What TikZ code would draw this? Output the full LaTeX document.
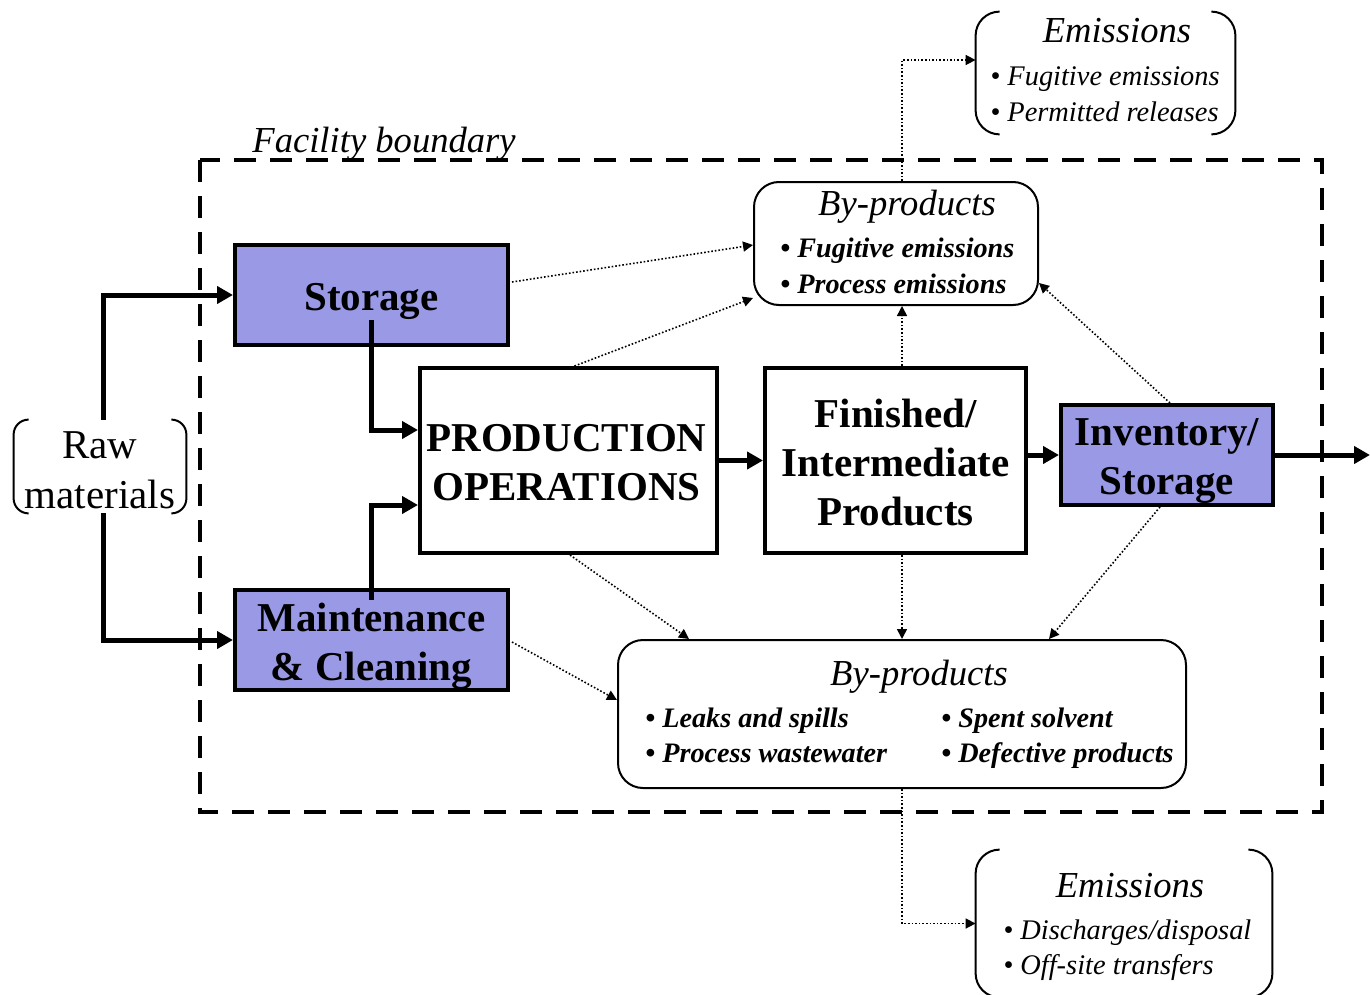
\documentclass[tikz,border=0pt]{standalone}
\usepackage{fontspec}
\setmainfont{Liberation Serif}
\usetikzlibrary{arrows.meta,calc}
\definecolor{lav}{RGB}{153,153,230}
\newcommand\bigf{\fontsize{20.5}{24.5}\selectfont\bfseries}
\newcommand\rawf{\fontsize{20.5}{25}\selectfont}
\newcommand\titf{\fontsize{18.3}{22}\selectfont\itshape}
\newcommand\bulbf{\fontsize{14.1}{17.5}\selectfont\bfseries\itshape}
\newcommand\bulit{\fontsize{14.2}{17.5}\selectfont\itshape}
\tikzset{
  bigbox/.style={draw, line width=2pt, inner sep=0pt},
  lavbox/.style={bigbox, fill=lav},
  bigtxt/.style={font=\bigf, align=center, inner sep=0pt},
  bpbox/.style={draw, line width=1pt, rounded corners=12.5pt, inner sep=0pt},
  brkbox/.style={draw=none, inner sep=0pt},
  brk/.style={line width=1pt},
  thickarrow/.style={line width=2.5pt, -{Triangle[length=8pt,width=8.5pt]}},
  dotarrow/.style={line width=0.8pt, dash pattern=on 0.8pt off 1pt, -{Triangle[length=5pt,width=5pt]}},
  ttl/.style={anchor=base, font=\titf, inner sep=0pt},
  bb/.style={anchor=base west, font=\bulbf, inner sep=0pt},
  bi/.style={anchor=base west, font=\bulit, inner sep=0pt},
}
\begin{document}
\begin{tikzpicture}[x=0.5pt,y=-0.5pt]
\useasboundingbox (0,0) rectangle (1370,995);
% facility boundary
\draw[line width=2pt, dash pattern=on 11pt off 7pt] (200,160) rectangle (1322,812);
\node[anchor=base west, font=\titf, inner sep=0pt] (fbl) at (252,153) {Facility boundary};

% main boxes
\node[lavbox, minimum width=136.5pt, minimum height=50pt] (storage) at (371.5,295) {};
\node[bigtxt] (storaget) at ($(storage.center)+(0,6)$) {Storage};
\node[lavbox, minimum width=136.5pt, minimum height=50pt] (maint) at (371.5,640) {};
\node[bigtxt] (maintt) at ($(maint.center)+(0,6)$) {Maintenance\\\& Cleaning};
\node[bigbox, minimum width=148.5pt, minimum height=92.5pt] (prod) at (568.5,460.5) {};
\node[bigtxt] (prodt) at ($(prod.center)+(-2,2.5)$) {PRODUCTION\\OPERATIONS};
\node[bigbox, minimum width=130.5pt, minimum height=92.5pt] (fin) at (895.5,460.5) {};
\node[bigtxt] (fint) at ($(fin.center)+(0,2)$) {Finished/\\Intermediate\\Products};
\node[lavbox, minimum width=106pt, minimum height=50pt] (inv) at (1167,455) {};
\node[bigtxt] (invt) at ($(inv.center)+(0,6)$) {Inventory/\\Storage};

% by-products boxes
\node[bpbox, minimum width=142pt, minimum height=61.5pt] (bp1) at (896,243.5) {};
\node[ttl] (bp1t) at (907,215) {By-products};
\node[bb] (bp1a) at (780,257) {• Fugitive emissions};
\node[bb] (bp1b) at (780,293) {• Process emissions};

\node[bpbox, minimum width=284pt, minimum height=74pt] (bp2) at (902,714) {};
\node[ttl] (bp2t) at (919,685) {By-products};
\node[bb] (bp2a) at (645,727) {• Leaks and spills};
\node[bb] (bp2b) at (645,762) {• Process wastewater};
\node[bb] (bp2c) at (941,727) {• Spent solvent};
\node[bb] (bp2d) at (941,762) {• Defective products};

% emissions boxes (brackets)
\node[brkbox, minimum width=129.5pt, minimum height=61pt] (em1) at (1105.5,73) {};
\draw[brk, rounded corners=12pt] ([xshift=12pt]em1.north west) -- (em1.north west) -- (em1.south west) -- ([xshift=12pt]em1.south west);
\draw[brk, rounded corners=12pt] ([xshift=-12pt]em1.north east) -- (em1.north east) -- (em1.south east) -- ([xshift=-12pt]em1.south east);
\node[ttl] (em1t) at (1117,43) {Emissions};
\node[bi] (em1a) at (990,86) {• Fugitive emissions};
\node[bi] (em1b) at (990,121) {• Permitted releases};

\node[brkbox, minimum width=148pt, minimum height=73.5pt] (em2) at (1124,923.5) {};
\draw[brk, rounded corners=12pt] ([xshift=12pt]em2.north west) -- (em2.north west) -- (em2.south west) -- ([xshift=12pt]em2.south west);
\draw[brk, rounded corners=12pt] ([xshift=-12pt]em2.north east) -- (em2.north east) -- (em2.south east) -- ([xshift=-12pt]em2.south east);
\node[ttl] (em2t) at (1130,897) {Emissions};
\node[bi] (em2a) at (1003,939) {• Discharges/disposal};
\node[bi] (em2b) at (1003,974) {• Off-site transfers};

% raw materials
\node[brkbox, minimum width=86pt, minimum height=46.5pt] (raw) at (100,466.5) {};
\node[font=\rawf, align=center, inner sep=0pt] (rawt) at ($(raw.center)+(0,4)$) {Raw\\materials};
\draw[brk, rounded corners=7.5pt] ([xshift=7.5pt]raw.north west) -- (raw.north west) -- (raw.south west) -- ([xshift=7.5pt]raw.south west);
\draw[brk, rounded corners=7.5pt] ([xshift=-7.5pt]raw.north east) -- (raw.north east) -- (raw.south east) -- ([xshift=-7.5pt]raw.south east);

% thick connectors
\draw[thickarrow] ($(raw.north)+(3,0)$) |- (storage.west);
\draw[thickarrow] ($(raw.south)+(3,0)$) |- (maint.west);
\draw[thickarrow] ($(storage.center)+(0,25)$) |- ($(prod.west)+(0,-30.5)$);
\draw[thickarrow] ($(maint.center)+(0,-40)$) |- ($(prod.west)+(0,44.5)$);
\draw[thickarrow] (prod.east) -- (fin.west);
\draw[thickarrow] (fin.east |- inv.west) -- (inv.west);
\coordinate (outend) at (1370,455);
\draw[thickarrow] (inv.east) -- (outend);

% dotted connectors
\draw[dotarrow] ($(storage.east)+(2,-13)$) -- ($(bp1.west)+(0,1.5)$);
\draw[dotarrow] ($(prod.north)+(6,0)$) -- ($(bp1.south west)+(0,-8)$);
\draw[dotarrow] ($(fin.north)+(6.5,0)$) -- ($(bp1.south)+(6,0)$);
\draw[dotarrow] ($(inv.north)+(3,0)$) -- ($(bp1.east)+(0,39.5)$);
\draw[dotarrow] ($(prod.south)+(1.5,0)$) -- ($(bp2.north west)+(72,0)$);
\draw[dotarrow] ($(fin.south)+(6.5,0)$) -- (bp2.north);
\draw[dotarrow] ($(inv.south)+(-7,0)$) -- ($(bp2.north west)+(432,0)$);
\draw[dotarrow] ($(maint.east)+(2,2)$) -- ($(bp2.west)+(0,-14)$);
\draw[dotarrow] ($(bp1.north)+(6,0)$) |- ($(em1.west)+(0,-13)$);
\draw[dotarrow] (bp2.south) |- (em2.west);
\end{tikzpicture}
\end{document}
